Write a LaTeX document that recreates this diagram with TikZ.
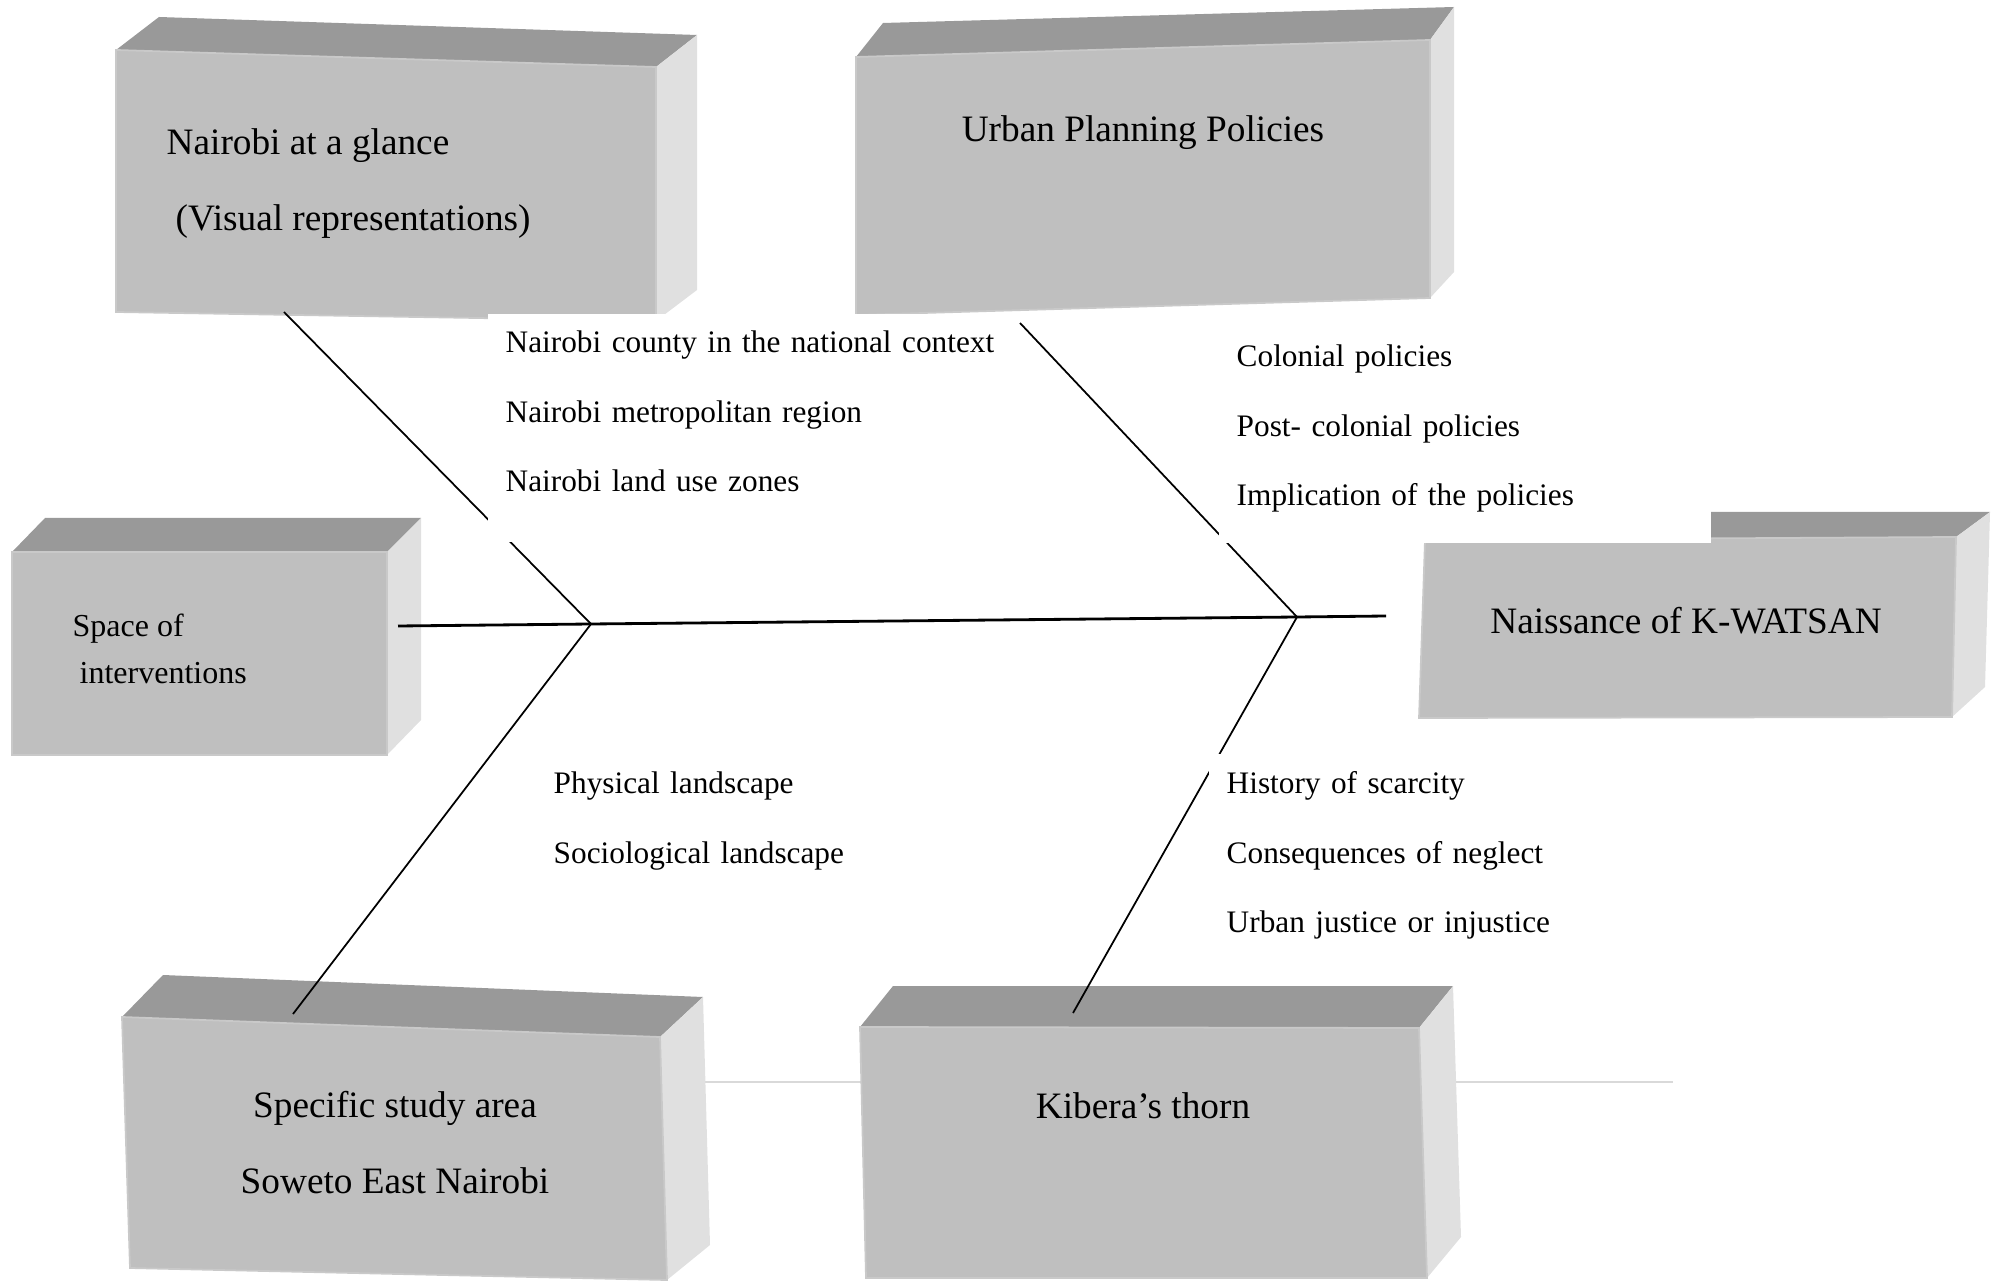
\documentclass[tikz,border=0pt]{standalone}
\usepackage{fontspec}
\setmainfont{Liberation Serif}

\tikzset{
  topface/.style={fill=black!40},
  frontface/.style={fill=black!25, draw=black!21, line width=0.5pt},
  sideface/.style={fill=black!12},
  boxtext/.style={font=\fontsize{10.6}{13}\selectfont, inner sep=0pt},
  smalltext/.style={font=\fontsize{9.1}{11}\selectfont, inner sep=0pt},
  itemlist/.style={fill=white, anchor=north west, align=left, inner xsep=0.18cm, inner ysep=0pt,
    font=\fontsize{8.9}{19.77}\selectfont},
  bone/.style={line width=0.5pt},
  spine/.style={line width=0.8pt}
}

\newcommand{\grayblock}[7]{%
  \fill[topface] #1 -- #5 -- #6 -- #2 -- cycle;
  \fill[sideface] #2 -- #6 -- #7 -- #3 -- cycle;
  \filldraw[frontface] #1 -- #2 -- #3 -- #4 -- cycle;
}

\begin{document}
\begin{tikzpicture}[x=0.01cm, y=-0.01cm]
			\useasboundingbox (0,0) rectangle (2007,1286);

			\coordinate (rowL) at (704,1082);
			\coordinate (rowR) at (1673,1082);
			\draw [black!15, line width=0.6pt] (rowL) -- (rowR);

			\grayblock{(116,50)}{(656,67)}{(656,321)}{(116,312)}{(159,17)}{(697,35)}{(697,290)}
			\grayblock{(856,57)}{(1430,40)}{(1430,298)}{(856,315)}{(883,23)}{(1454,7)}{(1454,272)}
			\grayblock{(12,552)}{(387,552)}{(387,755)}{(12,755)}{(45,518)}{(421,518)}{(421,720)}
			\grayblock{(1425,540)}{(1956,537)}{(1952,717)}{(1419,718)}{(1459,512)}{(1990,512)}{(1985,687)}
			\grayblock{(122,1017)}{(660,1037)}{(667,1280)}{(130,1268)}{(163,975)}{(703,997)}{(710,1245)}
			\grayblock{(860,1027)}{(1419,1028)}{(1427,1278)}{(866,1278)}{(893,986)}{(1453,986)}{(1461,1237)}

			\node (glance) [boxtext, anchor=base west] at (166,155) {Nairobi at a glance};
			\node (visual) [boxtext, anchor=base west] at (175,231) {(Visual representations)};
			\node (urban) [boxtext, anchor=base] at (1143,142) {Urban Planning Policies};
			\node (space) [smalltext, anchor=base west] at (72,637) {Space of};
			\node (inter) [smalltext, anchor=base west] at (79,684) {interventions};
			\node (naiss) [boxtext, anchor=base] at (1686,634) {Naissance of K-WATSAN};
			\node (study) [boxtext, anchor=base] at (395,1117) {Specific study area};
			\node (soweto) [boxtext, anchor=base] at (395,1193) {Soweto East Nairobi};
			\node (kibera) [boxtext, anchor=base] at (1143,1118) {Kibera’s thorn};

			\coordinate (tail) at (398,626);
			\coordinate (jL) at (591,624);
			\coordinate (jR) at (1297,617);
			\coordinate (head) at (1386,616);
			\coordinate (glanceFoot) at (284,312);
			\coordinate (urbanFoot) at (1020,323);
			\coordinate (studyTop) at (293,1014);
			\coordinate (kiberaTop) at (1073,1013);

			\draw [spine] (tail) -- (jL) -- (jR) -- (head);

			\draw [bone] (glanceFoot) -- (jL);
			\node (lglance) [itemlist, text width=5.1cm, text height=0.39cm, text depth=1.89cm] at (487,313)
				{Nairobi county in the national context\\Nairobi metropolitan region\\Nairobi land use zones};

			\draw [bone] (urbanFoot) -- (jR);
			\node (lurban) [itemlist, text width=4.56cm, text height=0.33cm, text depth=1.76cm] at (1218,333)
				{Colonial policies\\Post- colonial policies\\Implication of the policies};

			\draw [bone] (studyTop) -- (jL);
			\node (lstudy) [itemlist, text width=3.4cm, text height=0.40cm, text depth=1.0cm] at (535,753)
				{Physical landscape\\Sociological landscape};

			\draw [bone] (kiberaTop) -- (jR);
			\node (lkibera) [itemlist, text width=3.7cm, text height=0.40cm, text depth=1.7cm] at (1208,753)
				{History of scarcity\\Consequences of neglect\\Urban justice or injustice};
		\end{tikzpicture}
\end{document}
